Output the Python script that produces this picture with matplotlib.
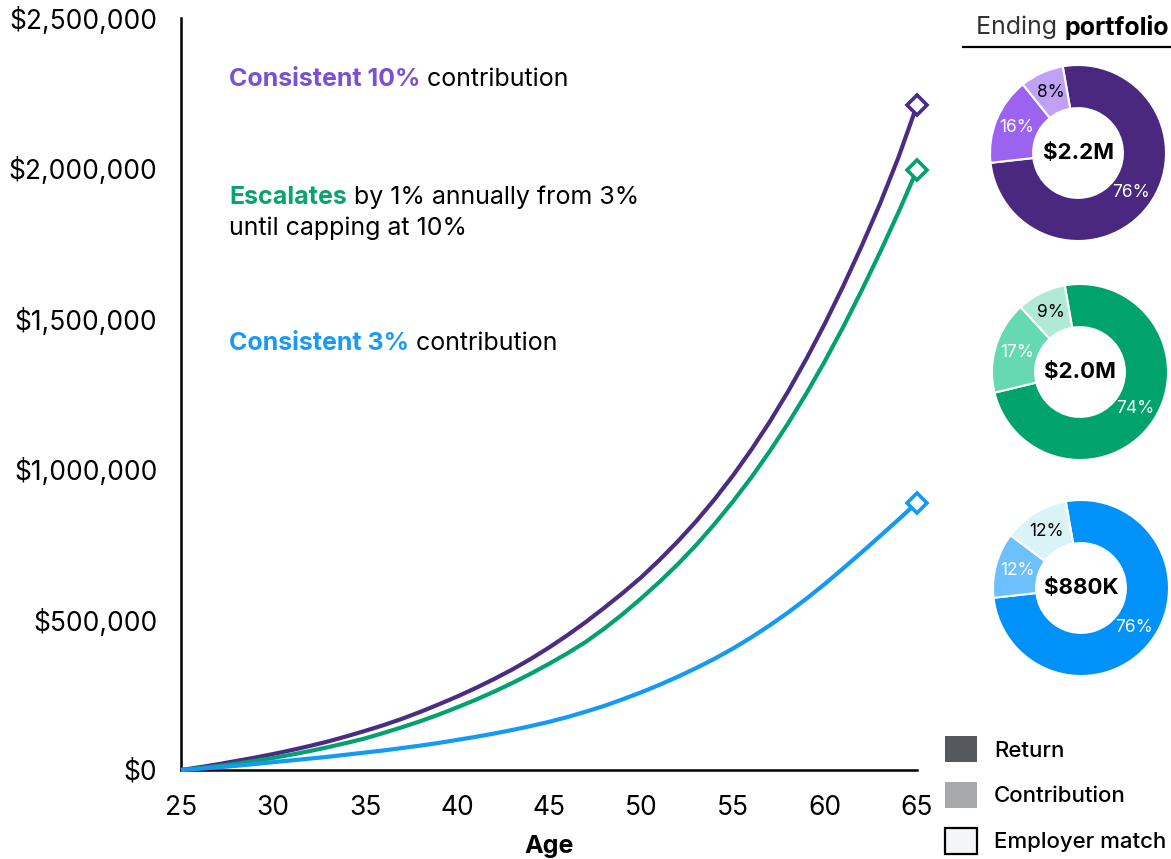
import numpy as np
import matplotlib
matplotlib.use("Agg")
import matplotlib.pyplot as plt
from matplotlib.patches import Patch
from matplotlib.ticker import FuncFormatter

plt.rcParams['font.family'] = ['Inter', 'DejaVu Sans']

# ---- data (values in dollars) ----
ages = list(range(25, 66))

# Consistent 10% contribution
purple_vals = [0, 9e3, 19e3, 30e3, 41e3, 53e3, 66e3, 80e3, 95e3, 112e3,
               130e3, 149e3, 170e3, 193e3, 218e3, 244e3, 272e3, 302e3, 334e3, 369e3,
               407e3, 448e3, 492e3, 539e3, 588e3, 640e3, 698e3, 760e3, 827e3, 900e3,
               979e3, 1065e3, 1158e3, 1259e3, 1368e3, 1485e3, 1610e3, 1743e3, 1884e3, 2038e3,
               2210e3]
# Escalates by 1% annually from 3% until capping at 10%
green_vals = [0, 6e3, 13e3, 21e3, 30e3, 40e3, 51e3, 63e3, 76e3, 90e3,
              105e3, 123e3, 142e3, 162e3, 184e3, 208e3, 233e3, 260e3, 289e3, 320e3,
              353e3, 388e3, 426e3, 470e3, 518e3, 570e3, 625e3, 684e3, 748e3, 818e3,
              893e3, 973e3, 1060e3, 1153e3, 1253e3, 1360e3, 1474e3, 1595e3, 1722e3, 1855e3,
              1995e3]
# Consistent 3% contribution
blue_vals = [0, 4e3, 9e3, 14e3, 20e3, 26e3, 32e3, 38e3, 44e3, 51e3,
             58e3, 65e3, 73e3, 81e3, 90e3, 100e3, 110e3, 121e3, 133e3, 146e3,
             160e3, 176e3, 194e3, 213e3, 235e3, 258e3, 283e3, 310e3, 339e3, 370e3,
             404e3, 441e3, 481e3, 524e3, 570e3, 619e3, 671e3, 724e3, 778e3, 833e3,
             889e3]

x_ticks = [25, 30, 35, 40, 45, 50, 55, 60, 65]
y_ticks = [0, 500000, 1000000, 1500000, 2000000, 2500000]

# ending portfolio split: return, contribution, employer match
donut_totals = ["$2.2M", "$2.0M", "$880K"]
donut_shares = [[76, 16, 8], [74, 17, 9], [76, 12, 12]]
legend_labels = ["Return", "Contribution", "Employer match"]

# ---- styles ----
line_colors = ["#4b2c85", "#03a170", "#1499f5"]
text_colors = ["#7b4fd6", "#0ba36c", "#1a9af5"]
donut_colors = [["#4a2880", "#9b63f0", "#c1a1f7"],
                ["#00a36c", "#66d9b3", "#b0ead6"],
                ["#0092f8", "#6cc1fd", "#d9f3f7"]]
pct_colors = ["white", "white", "black"]

W, H = 1171, 859
fig = plt.figure(figsize=(W / 100, H / 100), dpi=100)


def fx(px):
    return px / W


def fy(py):
    return 1 - py / H


ax = fig.add_axes([fx(181), fy(770), fx(917) - fx(181), fy(18) - fy(770)])

for vals, c in zip([purple_vals, green_vals, blue_vals], line_colors):
    ax.plot(ages, vals, color=c, lw=3.0, solid_capstyle='butt', clip_on=False, zorder=3)
    ax.plot(ages[-1], vals[-1], marker='D', ms=10, mfc='white', mec=c, mew=2.6,
            clip_on=False, zorder=4)

ax.set_xlim(25, 65)
ax.set_ylim(0, 2500000)
ax.set_xticks(x_ticks)
ax.set_yticks(y_ticks)
ax.yaxis.set_major_formatter(FuncFormatter(lambda v, p: f"${v:,.0f}"))
ax.tick_params(axis='both', length=0, labelsize=19, colors='black')
ax.tick_params(axis='y', pad=17)
ax.tick_params(axis='x', pad=18)
for s in ['top', 'right']:
    ax.spines[s].set_visible(False)
for s in ['left', 'bottom']:
    ax.spines[s].set_linewidth(1.8)
ax.set_xlabel("Age", fontsize=18, fontweight='bold', labelpad=10)


def label(x, y, parts, size=18):
    # pieces of one line in different colours / weights, chained left to right
    prev = fig.text(x, y, parts[0][0], color=parts[0][1], fontweight=parts[0][2],
                    fontsize=size, ha='left', va='center')
    for s, color, weight in parts[1:]:
        prev = ax.annotate(s, xy=(1, 0.5), xycoords=prev, xytext=(0, 0),
                           textcoords='offset points', ha='left', va='center',
                           color=color, fontweight=weight, fontsize=size,
                           annotation_clip=False)


label(fx(229), fy(80), [("Consistent 10%", text_colors[0], 'bold'),
                        (" contribution", 'black', 'normal')])
label(fx(229), fy(197), [("Escalates", text_colors[1], 'bold'),
                         (" by 1% annually from 3%", 'black', 'normal')])
label(fx(229), fy(228), [("until capping at 10%", 'black', 'normal')])
label(fx(229), fy(343), [("Consistent 3%", text_colors[2], 'bold'),
                         (" contribution", 'black', 'normal')])

# ---- Ending portfolio donuts ----
fig.text(fx(1064), fy(27), "Ending ", color='#333333', fontsize=18,
         ha='right', va='center')
fig.text(fx(1064), fy(27), "portfolio", color='black', fontsize=18,
         fontweight='bold', ha='left', va='center')
fig.add_artist(plt.Line2D([fx(963), fx(1171)], [fy(47), fy(47)], color='black', lw=1.6))

centers = [(1078, 153), (1080, 372), (1081, 588)]
R = 88
for (cx, cy), shares, cols, total in zip(centers, donut_shares, donut_colors, donut_totals):
    dax = fig.add_axes([fx(cx - R), fy(cy + R), 2 * R / W, 2 * R / H])
    wedges, texts, autotexts = dax.pie(
        shares, colors=cols, startangle=100, counterclock=False, radius=1,
        autopct='%.0f%%', pctdistance=0.75,
        wedgeprops=dict(width=0.49, edgecolor='white', linewidth=1.5),
        textprops=dict(fontsize=12.5))
    for at, tc in zip(autotexts, pct_colors):
        at.set_color(tc)
    dax.text(0, 0, total, ha='center', va='center', fontsize=16, fontweight='bold')
    dax.set_xlim(-1, 1)
    dax.set_ylim(-1, 1)
    dax.set_aspect('equal')
    dax.axis('off')

handles = [Patch(facecolor=c, edgecolor=e, linewidth=lw)
           for c, e, lw in [("#55585c", "#55585c", 0), ("#a7a8aa", "#a7a8aa", 0),
                            ("#f4f5f7", "black", 1.6)]]
fig.legend(handles, legend_labels, loc='upper left',
           bbox_to_anchor=(fx(945), fy(736)), frameon=False,
           handlelength=1.45, handleheight=1.45, handletextpad=0.75,
           labelspacing=0.88, borderpad=0, borderaxespad=0,
           prop=dict(size=16, weight='medium'))

fig.savefig("out.png", dpi=100)
